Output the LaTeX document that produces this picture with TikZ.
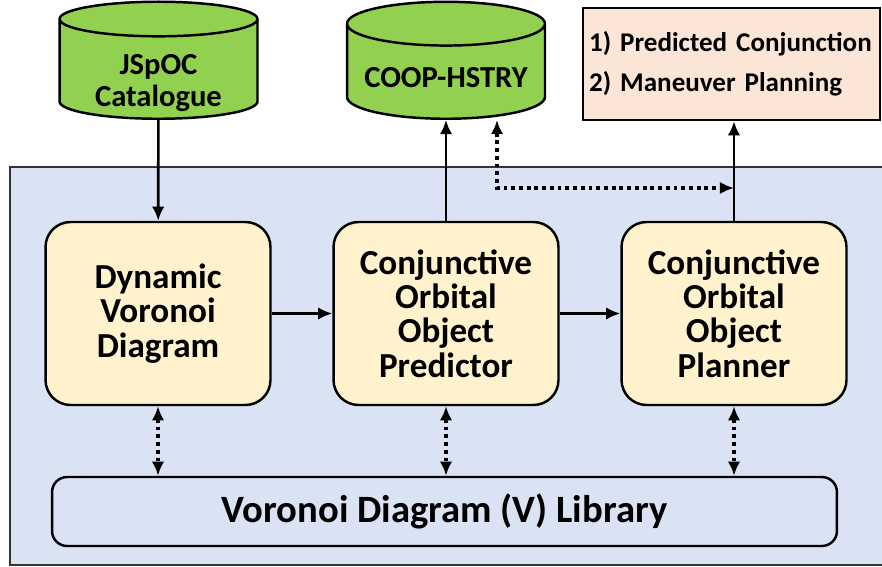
\documentclass[tikz,border=0pt]{standalone}
\usepackage{fontspec}
\setmainfont{Carlito}
\usetikzlibrary{arrows.meta,shapes.geometric}
\definecolor{dbgreen}{HTML}{92D050}
\definecolor{panelblue}{HTML}{DAE3F3}
\definecolor{modyellow}{HTML}{FFF2CC}
\definecolor{outpeach}{HTML}{FBE5D6}

\begin{document}
\begin{tikzpicture}[
    x=0.02cm,y=-0.02cm,
    dbtext/.style={align=center,inner sep=0pt,font=\fontsize{17.4}{18.7}\selectfont\bfseries},
    dbase/.style={cylinder,shape border rotate=90,aspect=0.25,draw,fill=dbgreen,line width=1.4pt,
      minimum width=3.96cm,minimum height=2.34cm,dbtext,inner sep=.3333em,anchor=south},
    module/.style={rectangle,rounded corners=0.5cm,draw,fill=modyellow,line width=1.4pt,
      minimum width=4.5cm,minimum height=3.66cm,align=center,
      font=\fontsize{20}{19.6}\selectfont\bfseries},
    arr/.style={-{Latex[length=8pt,width=7pt]},line width=1.5pt},
    dotarr/.style={{Latex[length=8pt,width=7pt]}-{Latex[length=8pt,width=7pt]},line width=2pt,
      dash pattern=on 2.2pt off 2.2pt}
  ]
    \useasboundingbox (0,0) rectangle (882,567);
    \draw[draw=black!80,line width=0.9pt,fill=panelblue] (10,167) rectangle (886,565);

    \node[dbase] (jspoc) at (158.5,120) {\phantom{JSpOC}\\\phantom{Catalogue}};
    \node[dbtext] (jspoclbl) at (158.5,83) {JSpOC\\Catalogue};
    \node[dbase] (coop) at (446,120) {\phantom{COOP-HSTRY}};
    \node[dbtext] (cooplbl) at (446,78) {COOP-HSTRY};
    \node[rectangle,draw,fill=outpeach,line width=1.4pt,minimum width=5.86cm,minimum height=2.24cm,
      text width=5.7cm,align=left,font=\fontsize{15.4}{22.7}\selectfont\bfseries] (out) at (731.5,64)
      {1) Predicted Conjunction\\2) Maneuver Planning\\[2pt]};

    \node[module] (dyn) at (158,313.5) {Dynamic\\Voronoi\\Diagram};
    \node[module] (pred) at (446,313.5) {Conjunctive\\Orbital\\Object\\Predictor};
    \node[module] (plan) at (734,313.5) {Conjunctive\\Orbital\\Object\\Planner};

    \node[rectangle,rounded corners=0.3cm,draw,fill=panelblue,line width=1.4pt,
      minimum width=15.7cm,minimum height=1.38cm,font=\fontsize{22}{24}\selectfont\bfseries]
      (vlib) at (444.5,511.5) {Voronoi Diagram (V) Library};

    \coordinate (hist) at (497,188);

    \draw[arr] (jspoc) -- (dyn);
    \draw[arr] (pred) -- (coop);
    \draw[arr] (plan.north) -- (plan.north |- out.south);
    \draw[arr] (dyn) -- (pred);
    \draw[arr] (pred) -- (plan);
    \draw[dotarr] (coop.south -| hist) |- (plan.north |- hist);

    \draw[dotarr] (dyn.south) -- (dyn.south |- vlib.north);
    \draw[dotarr] (pred.south) -- (pred.south |- vlib.north);
    \draw[dotarr] (plan.south) -- (plan.south |- vlib.north);
  \end{tikzpicture}
\end{document}
